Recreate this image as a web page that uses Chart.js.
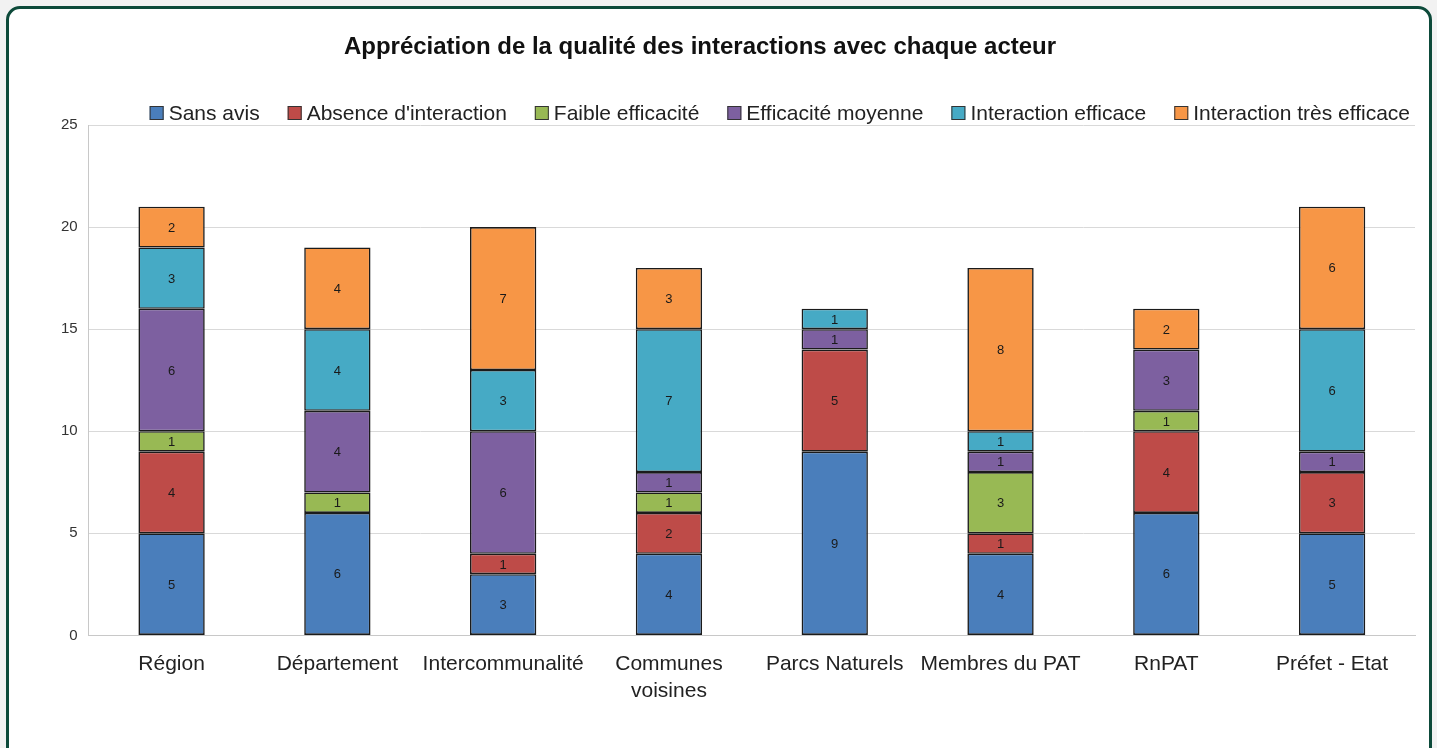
<!DOCTYPE html>
<html>
<head>
<meta charset="utf-8">
<script src="https://cdn.jsdelivr.net/npm/chart.js@4.4.0/dist/chart.umd.min.js"></script>
<style>
  html, body { margin: 0; padding: 0; background: #f2f2f2; overflow: hidden; }
  .frame {
    position: absolute; left: 6px; top: 6px; width: 1420px; height: 760px;
    border: 3px solid #0d4a3a; border-radius: 14px; background: #fff;
  }
  .wrap { position: absolute; left: 0; top: 0; width: 1437px; height: 748px; }
</style>
</head>
<body>
<div class="frame"></div>
<div class="wrap"><canvas id="chart"></canvas></div>
<script>
// categories (actors)
const actors = ['Région', 'Département', 'Intercommunalité', ['Communes', 'voisines'],
                'Parcs Naturels', 'Membres du PAT', 'RnPAT', 'Préfet - Etat'];

// number of answers per rating, one array per series
const sansAvis      = [5, 6, 3, 4, 9, 4, 6, 5];
const absence       = [4, 0, 1, 2, 5, 1, 4, 3];
const faible        = [1, 1, 0, 1, 0, 3, 1, 0];
const moyenne       = [6, 4, 6, 1, 1, 1, 3, 1];
const efficace      = [3, 4, 3, 7, 1, 1, 0, 6];
const tresEfficace  = [2, 4, 7, 3, 0, 8, 2, 6];

const yTicks = [0, 5, 10, 15, 20, 25];

const TITLE = 'Appréciation de la qualité des interactions avec chaque acteur';
const FONT = '"Liberation Sans", Arial, sans-serif';

function ds(label, data, color) {
    return {
        label: label,
        data: data,
        backgroundColor: color,
        borderColor: '#1b1b1b',
        borderWidth: 1.6,
        borderSkipped: false,
        barPercentage: 0.4,
        categoryPercentage: 1
    };
}

// value in the middle of each segment (no datalabels plugin offline)
const segmentLabels = {
    id: 'segmentLabels',
    afterDatasetsDraw(chart) {
        const ctx = chart.ctx;
        ctx.save();
        ctx.font = '13px ' + FONT;
        ctx.fillStyle = '#1a1a1a';
        ctx.textAlign = 'center';
        ctx.textBaseline = 'middle';
        chart.data.datasets.forEach((d, i) => {
            chart.getDatasetMeta(i).data.forEach((bar, j) => {
                const v = d.data[j];
                if (!v) return;
                const p = bar.getProps(['x', 'y', 'base'], true);
                ctx.fillText(String(v), p.x, (p.y + p.base) / 2 + 1);
            });
        });
        ctx.restore();
    }
};

// title + legend drawn by hand so they sit where the original has them
const header = {
    id: 'header',
    afterDraw(chart) {
        const ctx = chart.ctx;
        ctx.save();
        ctx.fillStyle = '#111';
        ctx.textAlign = 'center';
        ctx.textBaseline = 'middle';
        ctx.font = 'bold 24px ' + FONT;
        ctx.fillText(TITLE, 700, 47);

        // legend, right aligned on the plot's right edge
        ctx.font = '21px ' + FONT;
        ctx.textAlign = 'left';
        const box = 14, gapText = 5, gapItem = 28;
        const items = chart.data.datasets.map(d => ({
            label: d.label, color: d.backgroundColor, w: ctx.measureText(d.label).width
        }));
        let total = items.reduce((s, it) => s + box + gapText + it.w, 0) + gapItem * (items.length - 1);
        let x = 1410 - total;
        const cy = 113;
        items.forEach(it => {
            ctx.fillStyle = it.color;
            ctx.fillRect(x, cy - box / 2, box, box);
            ctx.strokeStyle = '#333';
            ctx.lineWidth = 1;
            ctx.strokeRect(x + 0.5, cy - box / 2 + 0.5, box - 1, box - 1);
            ctx.fillStyle = '#222';
            ctx.fillText(it.label, x + box + gapText, cy + 1);
            x += box + gapText + it.w + gapItem;
        });
        ctx.restore();
    }
};

new Chart(document.getElementById('chart'), {
    type: 'bar',
    data: {
        labels: actors,
        datasets: [
            ds('Sans avis', sansAvis, '#4a7ebb'),
            ds("Absence d'interaction", absence, '#be4b48'),
            ds('Faible efficacité', faible, '#98b954'),
            ds('Efficacité moyenne', moyenne, '#7d60a0'),
            ds('Interaction efficace', efficace, '#46aac5'),
            ds('Interaction très efficace', tresEfficace, '#f79646')
        ]
    },
    options: {
        responsive: true,
        maintainAspectRatio: false,
        animation: false,
        layout: { padding: { left: 50, right: 22, top: 125, bottom: 36 } },
        plugins: {
            title: { display: false },
            legend: { display: false },
            tooltip: { enabled: false }
        },
        scales: {
            x: {
                stacked: true,
                grid: { display: false },
                border: { color: '#c8c8c8' },
                ticks: {
                    color: '#222',
                    font: { family: FONT, size: 21, lineHeight: 1.3 },
                    padding: 7,
                    maxRotation: 0
                }
            },
            y: {
                stacked: true,
                min: 0,
                max: 25,
                afterBuildTicks(axis) { axis.ticks = yTicks.map(v => ({ value: v })); },
                grid: { color: '#d9d9d9', drawTicks: false },
                border: { color: '#c8c8c8' },
                ticks: {
                    color: '#333',
                    font: { family: FONT, size: 15 },
                    padding: 11
                }
            }
        }
    },
    plugins: [segmentLabels, header]
});
</script>
</body>
</html>
